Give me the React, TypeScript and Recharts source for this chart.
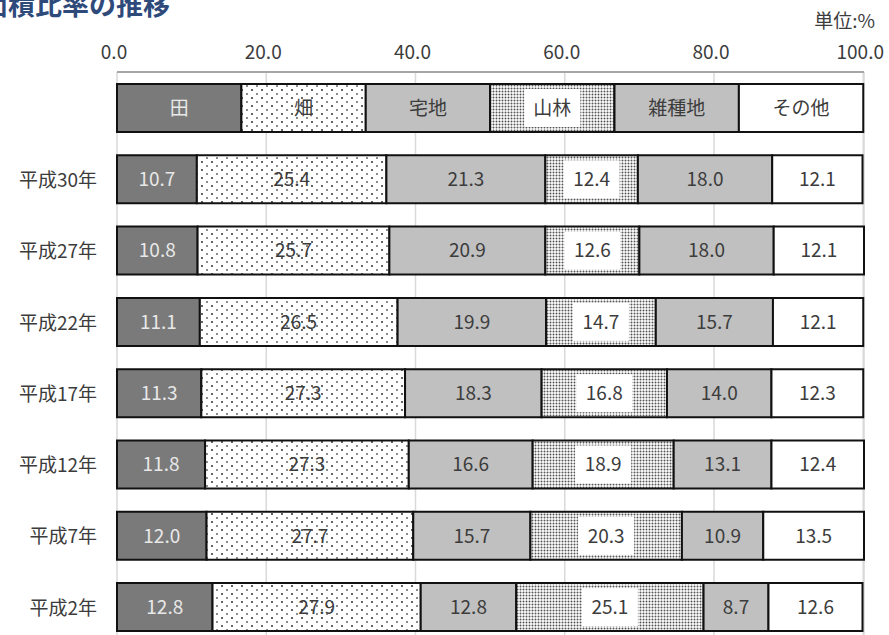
import { BarChart, Bar, XAxis, YAxis, CartesianGrid, LabelList } from 'recharts'

// 地目別面積比率（%）
const YEARS = ['平成30年', '平成27年', '平成22年', '平成17年', '平成12年', '平成7年', '平成2年']
const SERIES = ['田', '畑', '宅地', '山林', '雑種地', 'その他']

const TA = [10.7, 10.8, 11.1, 11.3, 11.8, 12.0, 12.8]
const HATAKE = [25.4, 25.7, 26.5, 27.3, 27.3, 27.7, 27.9]
const TAKUCHI = [21.3, 20.9, 19.9, 18.3, 16.6, 15.7, 12.8]
const SANRIN = [12.4, 12.6, 14.7, 16.8, 18.9, 20.3, 25.1]
const ZASSHU = [18.0, 18.0, 15.7, 14.0, 13.1, 10.9, 8.7]
const SONOTA = [12.1, 12.1, 12.1, 12.3, 12.4, 13.5, 12.6]

const X_TICKS = [0, 20, 40, 60, 80, 100]

const FILLS = ['#7a7a7a', 'url(#dots)', '#c0c0c0', 'url(#stipple)', '#c0c0c0', '#ffffff']
const FONT = '"Noto Sans CJK JP", "Noto Sans", sans-serif'
const TEXT = '#3c3c3c'

// 先頭行は凡例として使う（均等割り）
const legendRow: Record<string, any> = { name: '' }
SERIES.forEach(s => { legendRow[s] = 100 / SERIES.length })

const seriesValues = [TA, HATAKE, TAKUCHI, SANRIN, ZASSHU, SONOTA]
const data = [
    legendRow,
    ...YEARS.map((name, i) => {
        const row: Record<string, any> = { name }
        SERIES.forEach((s, j) => { row[s] = seriesValues[j][i] })
        return row
    }),
]

const makeLabel = (si: number) => (props: any) => {
    const x = Number(props.x), y = Number(props.y)
    const w = Number(props.width), h = Number(props.height)
    const cx = x + w / 2
    const cy = y + h / 2
    const text = props.index === 0 ? SERIES[si] : Number(props.value).toFixed(1)
    return (
        <g>
            {si === 3 && <rect x={cx - 28} y={y + 5} width={56} height={h - 10} fill="#fff" />}
            <text x={cx} y={cy} dy="0.36em" textAnchor="middle" fontSize={19} fontFamily={FONT}
                fill={si === 0 ? '#e8e8e8' : TEXT}>
                {text}
            </text>
        </g>
    )
}

const XTick = (props: any) => (
    <text x={props.x - 3} y={59} textAnchor="middle" fontSize={19} fontFamily={FONT} fill={TEXT}>
        {Number(props.payload.value).toFixed(1)}
    </text>
)

const YTick = (props: any) => (
    <text x={97} y={props.y} dy="0.42em" textAnchor="end" fontSize={19} fontFamily={FONT} fill={TEXT}>
        {props.payload.value}
    </text>
)

export default function App() {
    return (
        <div style={{ position: 'absolute', left: 0, top: 0, width: 889, height: 635, overflow: 'hidden', background: '#fff' }}>
            <svg width={0} height={0} style={{ position: 'absolute' }}>
                <defs>
                    <pattern id="dots" width={10} height={8} patternUnits="userSpaceOnUse">
                        <rect width={10} height={8} fill="#fff" />
                        <circle cx={2} cy={2} r={1} fill="#333" />
                        <circle cx={7} cy={6} r={0.9} fill="#555" />
                    </pattern>
                    <pattern id="stipple" width={3} height={3} patternUnits="userSpaceOnUse">
                        <rect width={3} height={3} fill="#fff" />
                        <circle cx={1.5} cy={1.5} r={1} fill="#555" />
                    </pattern>
                </defs>
            </svg>
            <svg width={889} height={40} style={{ position: 'absolute', left: 0, top: 0 }}>
                <text x={-19} y={15} fontSize={27} fontWeight="bold" fontFamily={FONT} fill="#2e4a7a">
                    面積比率の推移
                </text>
                <text x={875} y={28} textAnchor="end" fontSize={19} fontFamily={FONT} fill={TEXT}>
                    単位:%
                </text>
            </svg>
            <div style={{ position: 'absolute', left: 0, top: 0 }}>
                <BarChart width={889} height={680} data={data} layout="vertical"
                    margin={{ top: 42, right: 25, left: 0, bottom: 37.6 }}>
                    <CartesianGrid horizontal={false} stroke="#d9d9d9" strokeWidth={1.5} />
                    <XAxis type="number" orientation="top" domain={[0, 100]} ticks={X_TICKS}
                        height={30} tickLine={false} axisLine={{ stroke: '#a6a6a6', strokeWidth: 2 }}
                        tick={<XTick />} interval={0} />
                    <YAxis type="category" dataKey="name" width={117} axisLine={false} tickLine={false}
                        tick={<YTick />} interval={0} />
                    {SERIES.map((s, i) => (
                        <Bar key={s} dataKey={s} stackId="a" fill={FILLS[i]} stroke="#111" strokeWidth={2}
                            barSize={48} isAnimationActive={false}>
                            <LabelList dataKey={s} content={makeLabel(i)} />
                        </Bar>
                    ))}
                </BarChart>
            </div>
        </div>
    )
}
